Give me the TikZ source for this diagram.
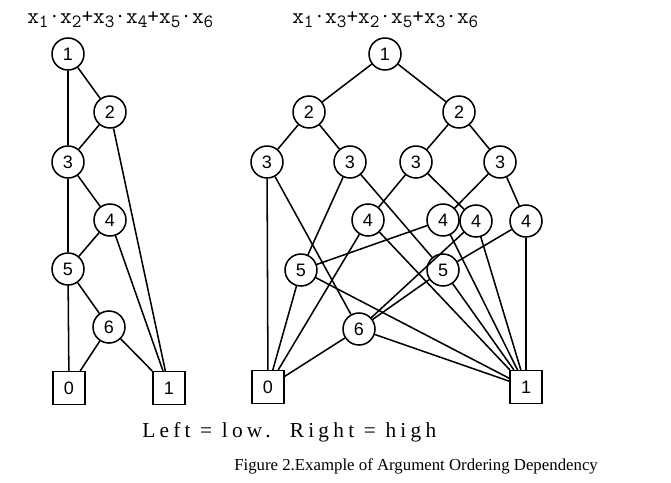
\documentclass[tikz,border=0pt]{standalone}
\usepackage{fontspec}
\setmainfont{Liberation Serif}
\newfontfamily\nodefont{Liberation Sans}
\newfontfamily\formfont{Latin Modern Mono}
\newfontfamily\spacedfont[LetterSpace=20]{Liberation Serif}
\newcommand\sbx[1]{\raisebox{-3.6pt}{\fontsize{14}{14}\selectfont #1}}
\begin{document}
\begin{tikzpicture}[x=0.75pt,y=-0.75pt,
  vnode/.style={draw,circle,line width=1.15pt,minimum size=24pt,inner sep=0pt,font=\nodefont\fontsize{13.5}{13.5}\selectfont},
  tnode/.style={draw,rectangle,line width=1.15pt,minimum width=24pt,minimum height=24.5pt,inner sep=0pt,font=\nodefont\fontsize{13.5}{13.5}\selectfont},
  edge/.style={line width=1.15pt},
  formula/.style={anchor=base west,inner sep=0pt,font=\formfont\fontsize{17}{17}\selectfont},
]
\useasboundingbox (0,0) rectangle (671,482);
% left diagram
\node[vnode] (l1) at (68,54) {1};
\node[vnode] (l2) at (110,112) {2};
\node[vnode] (l3) at (68,162) {3};
\node[vnode] (l4) at (110,220) {4};
\node[vnode] (l5) at (68,269) {5};
\node[vnode] (l6) at (109,327) {6};
\node[tnode] (l0b) at (69,388) {0};
\node[tnode] (l1b) at (169,388) {1};
\draw[edge] (l1) -- (l3);
\draw[edge] (l1) -- (l2);
\draw[edge] (l2) -- (l3);
\draw[edge] (l2) -- (l1b);
\draw[edge] (l3) -- (l5);
\draw[edge] (l3) -- (l4);
\draw[edge] (l4) -- (l5);
\draw[edge] (l4) -- (l1b);
\draw[edge] (l5) -- (l0b);
\draw[edge] (l5) -- (l6);
\draw[edge] (l6) -- (l0b);
\draw[edge] (l6) -- (l1b);
% right diagram
\node[vnode] (r1) at (385,54) {1};
\node[vnode] (r2a) at (309,112) {2};
\node[vnode] (r2b) at (459,112) {2};
\node[vnode] (r3a) at (267,162) {3};
\node[vnode] (r3b) at (350,162) {3};
\node[vnode] (r3c) at (416,162) {3};
\node[vnode] (r3d) at (500,162) {3};
\node[vnode] (r4a) at (368,220) {4};
\node[vnode] (r4b) at (443,220) {4};
\node[vnode] (r4c) at (476,221) {4};
\node[vnode] (r4d) at (526,221) {4};
\node[vnode] (r5a) at (301,270) {5};
\node[vnode] (r5b) at (443,270) {5};
\node[vnode] (r6) at (359,329) {6};
\node[tnode] (r0b) at (268,387) {0};
\node[tnode] (r1b) at (526,387) {1};
\draw[edge] (r1) -- (r2a);
\draw[edge] (r1) -- (r2b);
\draw[edge] (r2a) -- (r3a);
\draw[edge] (r2a) -- (r3b);
\draw[edge] (r2b) -- (r3c);
\draw[edge] (r2b) -- (r3d);
\draw[edge] (r3a) -- (r0b);
\draw[edge] (r3a) -- (r6);
\draw[edge] (r3b) -- (r5a);
\draw[edge] (r3b) -- (r5b);
\draw[edge] (r3c) -- (r4a);
\draw[edge] (r3c) -- (r4c);
\draw[edge] (r3d) -- (r4b);
\draw[edge] (r3d) -- (r4d);
\draw[edge] (r4a) -- (r0b);
\draw[edge] (r4a) -- (r1b);
\draw[edge] (r4b) -- (r5a);
\draw[edge] (r4b) -- (r1b);
\draw[edge] (r4c) -- (r6);
\draw[edge] (r4c) -- (r1b);
\draw[edge] (r4d) -- (r5b);
\draw[edge] (r4d) -- (r1b);
\draw[edge] (r5a) -- (r0b);
\draw[edge] (r5a) -- (r1b);
\draw[edge] (r5b) -- (r6);
\draw[edge] (r5b) -- (r1b);
\draw[edge] (r6) -- (r0b);
\draw[edge] (r6) -- (r1b);
% texts
\node[formula] (fl) at (27,23) {x\sbx{1}·x\sbx{2}+x\sbx{3}·x\sbx{4}+x\sbx{5}·x\sbx{6}};
\node[formula] (fr) at (292,23) {x\sbx{1}·x\sbx{3}+x\sbx{2}·x\sbx{5}+x\sbx{3}·x\sbx{6}};
\node[anchor=base west,inner sep=0pt,font=\spacedfont\fontsize{16}{16}\selectfont] (lr) at (142,437) {Left = low.\ \ Right = high};
\node[anchor=base west,inner sep=0pt,font=\fontsize{12.6}{12.6}\selectfont] (cap) at (234,470) {Figure 2.Example of Argument Ordering Dependency};
\end{tikzpicture}
\end{document}
